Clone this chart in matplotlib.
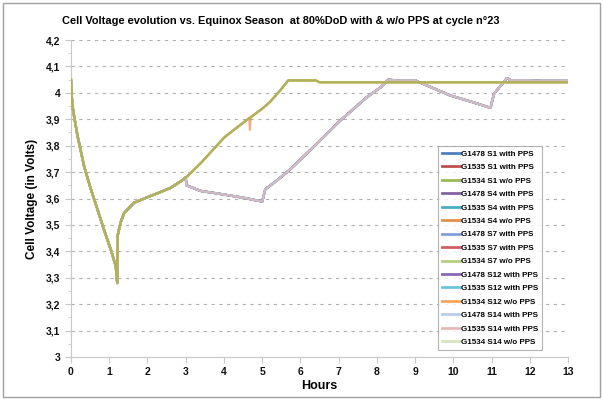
import matplotlib
matplotlib.use("Agg")
import matplotlib.pyplot as plt
from matplotlib.patches import Rectangle
from matplotlib.ticker import MultipleLocator, FixedLocator

plt.rcParams['font.family'] = ['Liberation Sans', 'DejaVu Sans']

# ---- data (hours, volts) ----
wo_t = [0.0, 0.03, 0.06, 0.17, 0.34, 0.52, 0.69, 0.86, 1.04, 1.17, 1.21, 1.22, 1.30, 1.39,
        1.65, 2.0, 2.3, 2.6, 2.9, 3.05, 3.4, 3.73, 4.0, 4.35, 4.69, 5.0, 5.2, 5.47, 5.68,
        6.4, 6.5, 13.0]
wo_v = [4.05, 3.965, 3.93, 3.838, 3.724, 3.635, 3.56, 3.483, 3.407, 3.345, 3.28, 3.46, 3.51, 3.545,
        3.584, 3.605, 3.622, 3.64, 3.668, 3.685, 3.735, 3.787, 3.83, 3.87, 3.907, 3.94, 3.965, 4.009, 4.047,
        4.047, 4.04, 4.04]

# G1534 S4 w/o PPS has a short dip near 4.7 h
wo_s4_t = [0.0, 0.03, 0.06, 0.17, 0.34, 0.52, 0.69, 0.86, 1.04, 1.17, 1.21, 1.22, 1.30, 1.39,
           1.65, 2.0, 2.3, 2.6, 2.9, 3.05, 3.4, 3.73, 4.0, 4.35, 4.66, 4.68, 4.70, 5.0, 5.2, 5.47, 5.68,
           6.4, 6.5, 13.0]
wo_s4_v = [4.05, 3.965, 3.93, 3.838, 3.724, 3.635, 3.56, 3.483, 3.407, 3.345, 3.28, 3.46, 3.51, 3.545,
           3.584, 3.605, 3.622, 3.64, 3.668, 3.685, 3.735, 3.787, 3.83, 3.87, 3.905, 3.86, 3.907, 3.94, 3.965, 4.009, 4.047,
           4.047, 4.04, 4.04]

pps_t = [0.0, 0.03, 0.06, 0.17, 0.34, 0.52, 0.69, 0.86, 1.04, 1.17, 1.21, 1.22, 1.30, 1.39,
         1.65, 2.0, 2.3, 2.6, 2.9, 3.0, 3.02, 3.38, 4.0, 4.5, 4.95, 5.0, 5.08, 5.4, 5.73, 6.34,
         7.04, 7.74, 8.09, 8.3, 8.5, 9.0, 9.92, 10.5, 10.97, 11.06, 11.4, 11.5, 12.0, 12.3, 13.0]
pps_v = [4.05, 3.965, 3.93, 3.838, 3.724, 3.635, 3.56, 3.483, 3.407, 3.345, 3.28, 3.46, 3.51, 3.545,
         3.584, 3.605, 3.622, 3.64, 3.668, 3.68, 3.65, 3.629, 3.615, 3.603, 3.59, 3.588, 3.635, 3.67, 3.71, 3.795,
         3.895, 3.984, 4.02, 4.05, 4.047, 4.047, 3.99, 3.965, 3.943, 3.996, 4.056, 4.048, 4.047, 4.045, 4.045]

series_names = ["G1478 S1 with PPS", "G1535 S1 with PPS", "G1534 S1 w/o PPS",
                "G1478 S4 with PPS", "G1535 S4 with PPS", "G1534 S4 w/o PPS",
                "G1478 S7 with PPS", "G1535 S7 with PPS", "G1534 S7 w/o PPS",
                "G1478 S12 with PPS", "G1535 S12 with PPS", "G1534 S12 w/o PPS",
                "G1478 S14 with PPS", "G1535 S14 with PPS", "G1534 S14 w/o PPS"]
series_data = [(pps_t, pps_v), (pps_t, pps_v), (wo_t, wo_v),
               (pps_t, pps_v), (pps_t, pps_v), (wo_s4_t, wo_s4_v),
               (pps_t, pps_v), (pps_t, pps_v), (wo_t, wo_v),
               (pps_t, pps_v), (pps_t, pps_v), (wo_t, wo_v),
               (pps_t, pps_v), (pps_t, pps_v), (wo_t, wo_v)]
series_colors = ["#4F81BD", "#C0504D", "#9BBB59",
                 "#8064A2", "#4BACC6", "#E0914F",
                 "#7FA0D6", "#D06060", "#B5D07E",
                 "#8A68B8", "#6CC4DC", "#F9A65A",
                 "#B9CDE5", "#E6B9B8", "#D7E4BD"]

x_ticks = list(range(0, 14))
y_ticks = [3.0, 3.1, 3.2, 3.3, 3.4, 3.5, 3.6, 3.7, 3.8, 3.9, 4.0, 4.1, 4.2]
y_labels = ["3", "3,1", "3,2", "3,3", "3,4", "3,5", "3,6", "3,7", "3,8", "3,9", "4", "4,1", "4,2"]

fig = plt.figure(figsize=(6.03, 3.99), dpi=100)
ax = fig.add_axes([0.1177, 0.1053, 0.8245, 0.7944])

n = len(series_names)
for i, (name, (t, v), c) in enumerate(zip(series_names, series_data, series_colors)):
    if "w/o" in name:
        z = 4 + (n - i) * 0.01   # w/o PPS drawn above, first series on top
    else:
        z = 3 + i * 0.01         # with PPS, later series on top
    ax.plot(t, v, color=c, lw=1.6, label=name, alpha=0.7, zorder=z)

ax.set_xlim(0, 13)
ax.set_ylim(3.0, 4.2)
ax.xaxis.set_major_locator(FixedLocator(x_ticks))
ax.set_yticks(y_ticks)
ax.set_yticklabels(y_labels)
ax.yaxis.set_minor_locator(MultipleLocator(0.05))
ax.grid(axis='y', which='major', color='#B0B0B0', linestyle=(0, (3, 4)), lw=0.8)
ax.set_axisbelow(True)

for s in ['top', 'right']:
    ax.spines[s].set_visible(False)
for s in ['left', 'bottom']:
    ax.spines[s].set_color('#C8C8C8')
    ax.spines[s].set_linewidth(0.8)
ax.tick_params(axis='both', which='major', colors='#C8C8C8', length=4, labelsize=7.5, labelcolor='#111111')
ax.tick_params(axis='y', which='minor', colors='#C8C8C8', length=2)
for lab in ax.get_xticklabels() + ax.get_yticklabels():
    lab.set_fontweight('bold')

ax.set_xlabel("Hours", fontsize=9, fontweight='bold', labelpad=2)
ax.set_ylabel("Cell Voltage (in Volts)", fontsize=8.5, fontweight='bold', labelpad=6)
fig.text(0.466, 0.948, "Cell Voltage evolution vs. Equinox Season  at 80%DoD with & w/o PPS at cycle n°23",
         ha='center', va='center', fontsize=7.9, fontweight='bold')

leg = ax.legend(loc='lower left', bbox_to_anchor=(0.738, 0.022, 0.21, 0.672), mode='expand',
                prop={'size': 5.8, 'weight': 'bold'}, frameon=True, fancybox=False,
                handlelength=2.2, handletextpad=0.2, borderpad=0.5, labelspacing=0.72,
                borderaxespad=0)
leg.set_zorder(10)
leg.get_frame().set_edgecolor('#A0A0A0')
leg.get_frame().set_linewidth(0.8)
for line in leg.get_lines():
    line.set_linewidth(2.0)
    line.set_alpha(1)

fig.patches.append(Rectangle((0.005, 0.005), 0.99, 0.988, transform=fig.transFigure,
                             fill=False, edgecolor='#A0A0A0', lw=1.0))

fig.savefig("out.png", dpi=100)
